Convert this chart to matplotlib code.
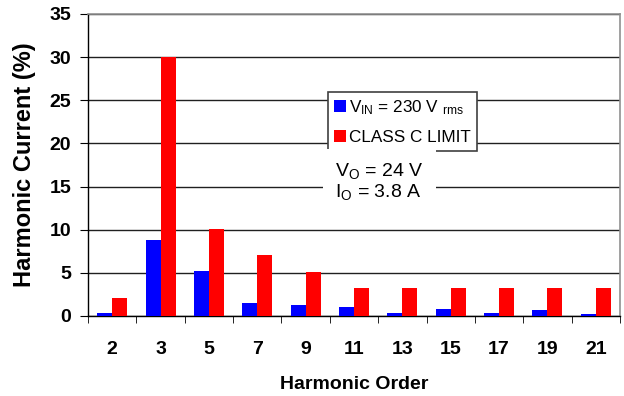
import matplotlib
matplotlib.use("Agg")
import matplotlib.pyplot as plt
import numpy as np

orders = ["2", "3", "5", "7", "9", "11", "13", "15", "17", "19", "21"]
vin_230 = [0.35, 8.85, 5.2, 1.45, 1.25, 1.0, 0.35, 0.85, 0.35, 0.7, 0.2]
class_c = [2.1, 30.0, 10.1, 7.1, 5.1, 3.2, 3.2, 3.2, 3.2, 3.2, 3.2]

plt.rcParams['font.family'] = ['Liberation Sans', 'DejaVu Sans']

fig = plt.figure(figsize=(6.24, 3.96), dpi=100)
ax = fig.add_axes([88/624, 1-316/396, (620-88)/624, 302/396])

x = np.arange(len(orders))
w = 0.31
ax.bar(x - w/2, vin_230, w, color='#0000ff', zorder=3,
       label='$\\mathregular{V_{IN}}$ = 230 V $\\mathregular{_{rms}}$')
ax.bar(x + w/2, class_c, w, color='#ff0000', zorder=3, label='CLASS C LIMIT')

ax.set_xlim(-0.5, len(orders) - 0.5)
ax.set_ylim(0, 35)
ax.set_yticks(range(0, 36, 5))
ax.yaxis.grid(True, color='#202020', linewidth=1.0, zorder=0)
ax.set_axisbelow(True)
ax.set_xticks(x)
ax.set_xticklabels(orders, fontweight='bold', fontsize=14)
ax.set_xticks(np.arange(-0.5, len(orders)), minor=True)
ax.tick_params(axis='x', which='major', length=0, pad=18)
ax.tick_params(axis='x', which='minor', length=5, direction='out')
ax.tick_params(axis='y', labelsize=14, length=6, pad=6)
for t in ax.get_yticklabels():
    t.set_fontweight('bold')
for s in ['top', 'right']:
    ax.spines[s].set_color('#909090')
    ax.spines[s].set_linewidth(1.2)
ax.spines['left'].set_linewidth(1.0)
ax.spines['bottom'].set_linewidth(1.0)

ax.set_xlabel('Harmonic Order', fontweight='bold', fontsize=14, labelpad=13)
ax.set_ylabel('Harmonic Current (%)', fontweight='bold', fontsize=17, labelpad=10)

leg = ax.legend(loc='upper left', bbox_to_anchor=((328-88)/532, (316-92)/302), fontsize=12.3,
                frameon=True, fancybox=False, edgecolor='#404040', framealpha=1,
                handlelength=0.7, handleheight=0.7, handletextpad=0.2, borderpad=0.35,
                labelspacing=0.8, borderaxespad=0)
leg.get_frame().set_linewidth(1.2)
leg.set_zorder(5)

ax.text(4.61, 15.6, '$\\mathregular{V_O}$ = 24 V\n$\\mathregular{I_O}$ = 3.8 A', fontsize=14,
        va='center', ha='left', linespacing=1.05, zorder=6,
        bbox=dict(facecolor='white', edgecolor='none', pad=9))

fig.savefig('out.png', dpi=100)
